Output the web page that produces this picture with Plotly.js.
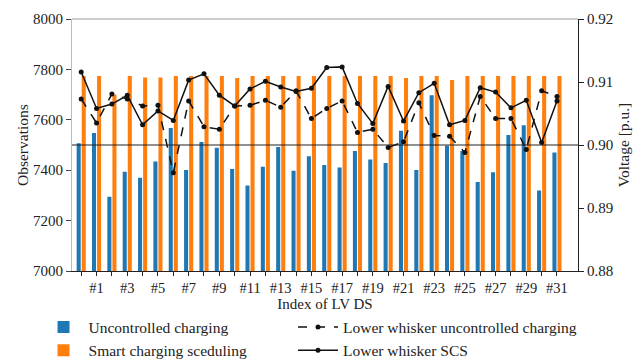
<!DOCTYPE html>
<html>
<head>
<meta charset="utf-8">
<script src="https://cdn.plot.ly/plotly-3.0.1.min.js"></script>
<style>html,body{margin:0;padding:0;background:#fff;}#chart{width:642px;height:361px;}</style>
</head>
<body>
<div id="chart"></div>
<script>
// Group index (0..31); labels shown on odd indices
const idx = Array.from({length: 32}, (_, i) => i);
const tickLabels = idx.map(i => (i % 2 === 1 ? '#' + i : ''));

const uncontrolled = [7507, 7548, 7295, 7394, 7370, 7435, 7567, 7401, 7512, 7489, 7405, 7339, 7414, 7492, 7398, 7455,
                      7421, 7411, 7476, 7442, 7429, 7557, 7401, 7697, 7497, 7476, 7353, 7392, 7540, 7578, 7319, 7470];
const smart = [7774, 7774, 7700, 7774, 7768, 7768, 7774, 7774, 7774, 7774, 7766, 7774, 7774, 7774, 7774, 7774,
               7774, 7774, 7774, 7774, 7774, 7766, 7774, 7774, 7758, 7774, 7774, 7774, 7774, 7774, 7774, 7774];
const lwUncontrolled = [0.9073, 0.9035, 0.9081, 0.9073, 0.9062, 0.9063, 0.8956, 0.9070, 0.9029, 0.9025, 0.9062, 0.9063,
                        0.9071, 0.9060, 0.9086, 0.9042, 0.9058, 0.9070, 0.9020, 0.9025, 0.8996, 0.9005, 0.9067, 0.9015,
                        0.9014, 0.8988, 0.9077, 0.9042, 0.9042, 0.8993, 0.9086, 0.9077];
const lwSCS = [0.9116, 0.9058, 0.9065, 0.9079, 0.9032, 0.9054, 0.9039, 0.9103, 0.9113, 0.9079, 0.9062, 0.9089,
               0.9101, 0.9092, 0.9085, 0.9090, 0.9123, 0.9124, 0.9066, 0.9034, 0.9093, 0.9038, 0.9083, 0.9098,
               0.9032, 0.9039, 0.9091, 0.9084, 0.9059, 0.9071, 0.9004, 0.9070];
const voltageLimit = 0.90;

const fam = 'Liberation Serif, Times New Roman, DejaVu Serif, serif';
const font = {family: fam, size: 15, color: '#222'};

const traces = [
  {type: 'bar', x: idx, y: uncontrolled, name: 'Uncontrolled charging', marker: {color: '#1f77b4'}, legend: 'legend'},
  {type: 'bar', x: idx, y: smart, name: 'Smart charging sceduling', marker: {color: '#ff7f0e'}, legend: 'legend'},
  {type: 'scatter', mode: 'lines+markers', x: idx, y: lwUncontrolled, yaxis: 'y2',
   name: 'Lower whisker uncontrolled charging', line: {color: '#111', width: 1.5, dash: 'dash'},
   marker: {color: '#111', size: 5}, legend: 'legend2'},
  {type: 'scatter', mode: 'lines+markers', x: idx, y: lwSCS, yaxis: 'y2',
   name: 'Lower whisker SCS', line: {color: '#111', width: 1.5},
   marker: {color: '#111', size: 5}, legend: 'legend2'}
];

const legendFont = {family: fam, size: 15.5, color: '#222'};

const layout = {
  width: 642, height: 361,
  margin: {l: 72, r: 64, t: 19, b: 90, autoexpand: false},
  paper_bgcolor: '#fff', plot_bgcolor: '#fff',
  font: font,
  barmode: 'group', bargap: 0.34, bargroupgap: 0.2,
  showlegend: true,
  legend: {orientation: 'v', xref: 'container', x: 0.06, xanchor: 'left',
           yref: 'container', y: 0.14, yanchor: 'top', traceorder: 'normal',
           font: legendFont, tracegroupgap: 0, itemwidth: 40, bgcolor: 'rgba(0,0,0,0)'},
  legend2: {orientation: 'v', xref: 'container', x: 0.4564, xanchor: 'left',
           yref: 'container', y: 0.14, yanchor: 'top', traceorder: 'normal',
           font: legendFont, tracegroupgap: 0, itemwidth: 40, bgcolor: 'rgba(0,0,0,0)'},
  xaxis: {
    range: [-0.6, 32.37], tickmode: 'array', tickvals: idx, ticktext: tickLabels,
    ticks: 'outside', ticklen: 4, tickcolor: '#222', showgrid: false, zeroline: false,
    showline: true, linecolor: '#222', linewidth: 1,
    title: {text: 'Index of LV DS', font: {family: fam, size: 15}, standoff: 2},
    tickfont: {family: fam, size: 14.5}
  },
  yaxis: {
    range: [7000, 8000], tickvals: [7000, 7200, 7400, 7600, 7800, 8000],
    ticks: 'outside', ticklen: 5, tickcolor: '#444', showgrid: false, zeroline: false,
    showline: true, linecolor: '#bbb', linewidth: 1,
    tickfont: {family: fam, size: 15}
  },
  yaxis2: {
    overlaying: 'y', side: 'right', range: [0.88, 0.92],
    tickvals: [0.88, 0.89, 0.90, 0.91, 0.92], ticktext: ['0.88', '0.89', '0.90', '0.91', '0.92'],
    ticks: 'outside', ticklen: 5, tickcolor: '#222', showgrid: false, zeroline: false,
    showline: true, linecolor: '#222', linewidth: 1,
    title: {text: 'Voltage [p.u.]', font: {family: fam, size: 15.5}, standoff: 5},
    tickfont: {family: fam, size: 15}
  },
  annotations: [
    {text: 'Observations', xref: 'paper', yref: 'paper', x: -0.0988, y: 0.5,
     xanchor: 'center', yanchor: 'middle', textangle: -90, showarrow: false,
     font: {family: fam, size: 15.5, color: '#222'}}
  ],
  shapes: [
    {type: 'line', xref: 'paper', yref: 'y2', x0: 0, x1: 1, y0: voltageLimit, y1: voltageLimit,
     line: {color: '#222', width: 1}},
    {type: 'line', xref: 'paper', yref: 'paper', x0: 0, x1: 1, y0: 1, y1: 1,
     line: {color: '#999', width: 1}}
  ]
};

Plotly.newPlot('chart', traces, layout, {displayModeBar: false, staticPlot: true});
</script>
</body>
</html>
